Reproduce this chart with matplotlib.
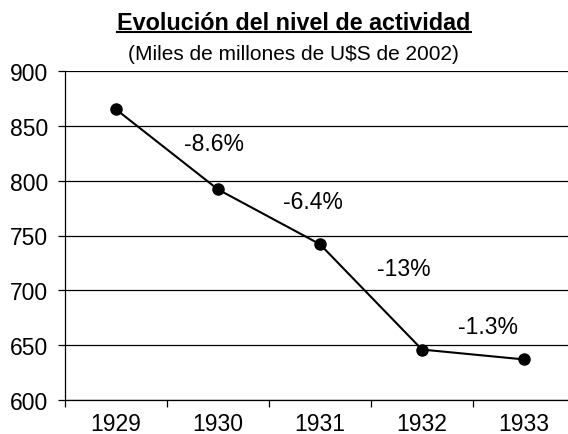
import matplotlib
matplotlib.use("Agg")
import matplotlib.pyplot as plt
from matplotlib.lines import Line2D

years = ["1929", "1930", "1931", "1932", "1933"]
values = [865, 792, 742, 646, 637]
change_labels = ["-8.6%", "-6.4%", "-13%", "-1.3%"]
change_x = [0.96, 1.93, 2.82, 3.65]
change_y = [834, 781, 720, 667]
yticks = [600, 650, 700, 750, 800, 850, 900]

plt.rcParams['font.family'] = ['Liberation Sans', 'DejaVu Sans']

W, H = 568, 435
fig = plt.figure(figsize=(W/100, H/100), dpi=100)
ax = fig.add_axes([65/W, 1-401/H, 510/W, 329/H])

x = list(range(len(years)))
ax.plot(x, values, color='black', lw=1.5, marker='o', ms=8, zorder=3, clip_on=False)

ax.set_xlim(-0.5, len(years)-0.5)
ax.set_ylim(600, 900)
ax.set_yticks(yticks)
ax.set_yticklabels([str(v) for v in yticks], fontsize=16.5)
ax.yaxis.grid(True, color='black', lw=0.9)
ax.set_axisbelow(True)

ax.set_xticks([i - 0.5 for i in range(len(years)+1)])
ax.set_xticklabels([])
ax.set_xticks(x, minor=True)
ax.set_xticklabels(years, minor=True, fontsize=16.5)
ax.tick_params(axis='x', which='minor', length=0, pad=9)
ax.tick_params(axis='x', which='major', length=5, width=0.9, direction='out')
ax.tick_params(axis='y', length=5, width=0.9, direction='out', pad=7)

for s in ['top', 'right']:
    ax.spines[s].set_visible(False)
for s in ['left', 'bottom']:
    ax.spines[s].set_linewidth(0.9)

for lx, ly, t in zip(change_x, change_y, change_labels):
    ax.text(lx, ly, t, fontsize=16.5, ha='center', va='center')

title = fig.text(294/W, 1-29.5/H, "Evolución del nivel de actividad", fontsize=16.8,
                 fontweight='bold', ha='center', va='baseline')
fig.text(293/W, 1-59.5/H, "(Miles de millones de U$S de 2002)", fontsize=15,
         ha='center', va='baseline')

fig.canvas.draw()
bb = title.get_window_extent()
uy = 1 - 33/H
fig.add_artist(Line2D([bb.x0/W, bb.x1/W], [uy, uy], transform=fig.transFigure,
                      color='black', lw=1.5))

fig.savefig("out.png", dpi=100)
